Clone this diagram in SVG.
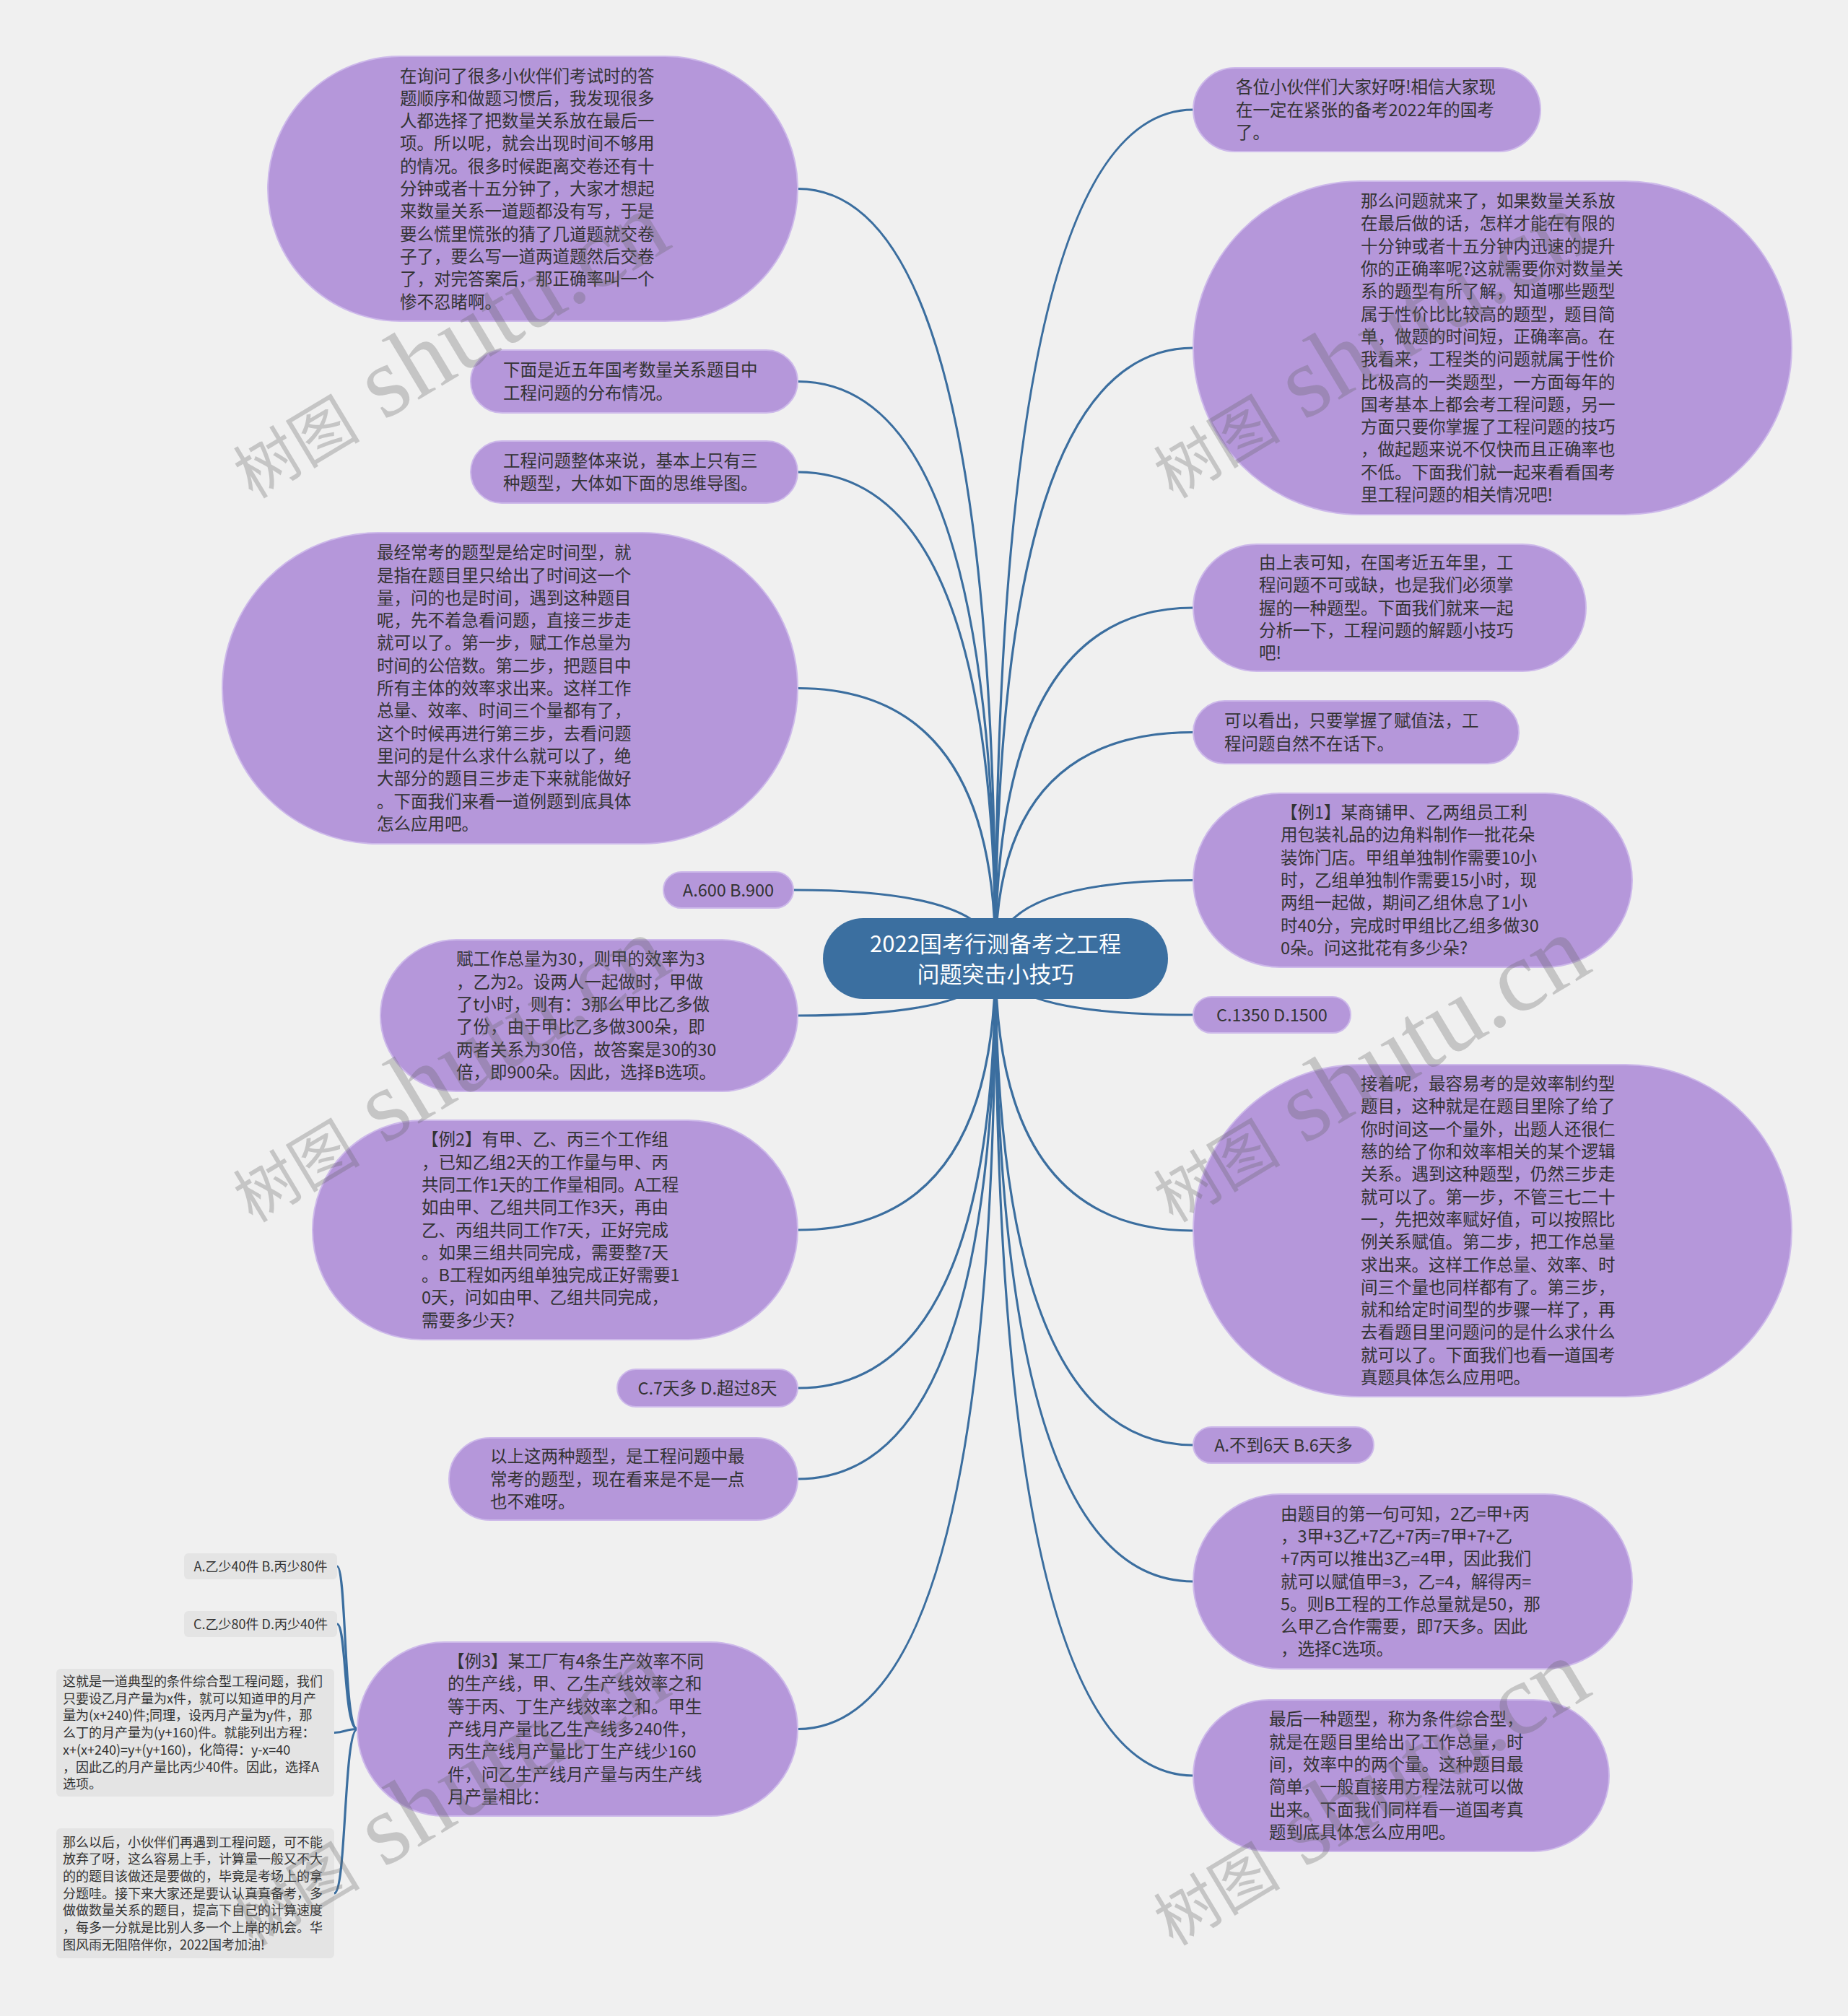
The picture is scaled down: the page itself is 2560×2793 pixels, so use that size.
<svg xmlns="http://www.w3.org/2000/svg" width="2560" height="2793" viewBox="0 0 2560 2793">
<style>
.bg{fill:#f0f0f0}
.n{fill:#b597da;stroke:#cdb9ea;stroke-width:2}
.s{fill:#e4e4e4}
.c{fill:none;stroke:#3b6e9f;stroke-width:3.2}
.t{font-family:"Noto Sans CJK SC","Noto Sans",sans-serif;font-size:23.5px;fill:#333333}
.tc{font-family:"Noto Sans CJK SC","Noto Sans",sans-serif;font-size:23.5px;fill:#333333;text-anchor:middle}
.ts{font-family:"Noto Sans CJK SC","Noto Sans",sans-serif;font-size:18px;fill:#333333}
.tsc{font-family:"Noto Sans CJK SC","Noto Sans",sans-serif;font-size:18px;fill:#333333;text-anchor:middle}
.root{fill:#3b6fa0}
.tr{font-family:"Noto Sans CJK SC","Noto Sans",sans-serif;font-size:31px;fill:#ffffff;text-anchor:middle}
.wm{font-family:"Liberation Serif","Noto Sans CJK SC",serif;font-size:88px;fill:#646464;fill-opacity:0.3}
.wl{font-size:140px}
</style>
<rect class="bg" x="0" y="0" width="2560" height="2793"/>

<g id="connectors">
<path class="c" d="M1379 1328 Q1379 261.5 1105 261.5"/>
<path class="c" d="M1379 1328 Q1379 528.5 1105 528.5"/>
<path class="c" d="M1379 1328 Q1379 654 1105 654"/>
<path class="c" d="M1379 1328 Q1379 953.5 1105 953.5"/>
<path class="c" d="M1379 1328 Q1379 1233 1099 1233"/>
<path class="c" d="M1379 1328 Q1379 1407 1105 1407"/>
<path class="c" d="M1379 1328 Q1379 1704 1105 1704"/>
<path class="c" d="M1379 1328 Q1379 1923 1105 1923"/>
<path class="c" d="M1379 1328 Q1379 2049 1105 2049"/>
<path class="c" d="M1379 1328 Q1379 2395.5 1105 2395.5"/>
<path class="c" d="M1379 1328 Q1379 152 1653 152"/>
<path class="c" d="M1379 1328 Q1379 482 1653 482"/>
<path class="c" d="M1379 1328 Q1379 842 1653 842"/>
<path class="c" d="M1379 1328 Q1379 1014.5 1653 1014.5"/>
<path class="c" d="M1379 1328 Q1379 1219.5 1653 1219.5"/>
<path class="c" d="M1379 1328 Q1379 1406 1653 1406"/>
<path class="c" d="M1379 1328 Q1379 1705 1653 1705"/>
<path class="c" d="M1379 1328 Q1379 2002 1653 2002"/>
<path class="c" d="M1379 1328 Q1379 2191 1653 2191"/>
<path class="c" d="M1379 1328 Q1379 2460 1653 2460"/>
<path class="c" d="M495 2395.5 C476 2395.5 480 2170 467 2170"/>
<path class="c" d="M495 2395.5 C476 2395.5 480 2250 467 2250"/>
<path class="c" d="M495 2395.5 C476 2395.5 480 2400.5 463 2400.5"/>
<path class="c" d="M495 2395.5 C476 2395.5 480 2623 463 2623"/>
</g>

<g id="root">
<rect class="root" x="1140" y="1272" width="478" height="112" rx="56"/>
<text class="tr" x="1379" y="1319">2022国考行测备考之工程<tspan x="1379" dy="42">问题突击小技巧</tspan></text>
</g>

<g id="L1">
<rect class="n" x="371" y="78" width="734" height="367" rx="183.5"/>
<text class="t" x="554" y="113.5"><tspan x="554">在询问了很多小伙伴们考试时的答</tspan><tspan x="554" dy="31.3">题顺序和做题习惯后，我发现很多</tspan><tspan x="554" dy="31.3">人都选择了把数量关系放在最后一</tspan><tspan x="554" dy="31.3">项。所以呢，就会出现时间不够用</tspan><tspan x="554" dy="31.3">的情况。很多时候距离交卷还有十</tspan><tspan x="554" dy="31.3">分钟或者十五分钟了，大家才想起</tspan><tspan x="554" dy="31.3">来数量关系一道题都没有写，于是</tspan><tspan x="554" dy="31.3">要么慌里慌张的猜了几道题就交卷</tspan><tspan x="554" dy="31.3">子了，要么写一道两道题然后交卷</tspan><tspan x="554" dy="31.3">了，对完答案后，那正确率叫一个</tspan><tspan x="554" dy="31.3">惨不忍睹啊。</tspan></text>
</g>

<g id="L2">
<rect class="n" x="652" y="485" width="453" height="87" rx="43.5"/>
<text class="t" x="697" y="521.4"><tspan x="697">下面是近五年国考数量关系题目中</tspan><tspan x="697" dy="31.3">工程问题的分布情况。</tspan></text>
</g>

<g id="L3">
<rect class="n" x="652" y="611" width="453" height="86" rx="43"/>
<text class="t" x="697" y="646.9"><tspan x="697">工程问题整体来说，基本上只有三</tspan><tspan x="697" dy="31.3">种题型，大体如下面的思维导图。</tspan></text>
</g>

<g id="L4">
<rect class="n" x="308" y="738" width="797" height="431" rx="215.5"/>
<text class="t" x="522" y="774.2"><tspan x="522">最经常考的题型是给定时间型，就</tspan><tspan x="522" dy="31.3">是指在题目里只给出了时间这一个</tspan><tspan x="522" dy="31.3">量，问的也是时间，遇到这种题目</tspan><tspan x="522" dy="31.3">呢，先不着急看问题，直接三步走</tspan><tspan x="522" dy="31.3">就可以了。第一步，赋工作总量为</tspan><tspan x="522" dy="31.3">时间的公倍数。第二步，把题目中</tspan><tspan x="522" dy="31.3">所有主体的效率求出来。这样工作</tspan><tspan x="522" dy="31.3">总量、效率、时间三个量都有了，</tspan><tspan x="522" dy="31.3">这个时候再进行第三步，去看问题</tspan><tspan x="522" dy="31.3">里问的是什么求什么就可以了，绝</tspan><tspan x="522" dy="31.3">大部分的题目三步走下来就能做好</tspan><tspan x="522" dy="31.3">。下面我们来看一道例题到底具体</tspan><tspan x="522" dy="31.3">怎么应用吧。</tspan></text>
</g>

<g id="L5">
<rect class="n" x="919" y="1208" width="180" height="50" rx="25"/>
<text class="tc" x="1009" y="1241.5">A.600 B.900</text>
</g>

<g id="L6">
<rect class="n" x="527" y="1302" width="578" height="210" rx="105"/>
<text class="t" x="632" y="1337.3"><tspan x="632">赋工作总量为30，则甲的效率为3</tspan><tspan x="632" dy="31.3">，乙为2。设两人一起做时，甲做</tspan><tspan x="632" dy="31.3">了t小时，则有：3那么甲比乙多做</tspan><tspan x="632" dy="31.3">了份，由于甲比乙多做300朵，即</tspan><tspan x="632" dy="31.3">两者关系为30倍，故答案是30的30</tspan><tspan x="632" dy="31.3">倍，即900朵。因此，选择B选项。</tspan></text>
</g>

<g id="L7">
<rect class="n" x="433" y="1552" width="672" height="304" rx="152"/>
<text class="t" x="584" y="1587.3"><tspan x="584">【例2】有甲、乙、丙三个工作组</tspan><tspan x="584" dy="31.3">，已知乙组2天的工作量与甲、丙</tspan><tspan x="584" dy="31.3">共同工作1天的工作量相同。A工程</tspan><tspan x="584" dy="31.3">如由甲、乙组共同工作3天，再由</tspan><tspan x="584" dy="31.3">乙、丙组共同工作7天，正好完成</tspan><tspan x="584" dy="31.3">。如果三组共同完成，需要整7天</tspan><tspan x="584" dy="31.3">。B工程如丙组单独完成正好需要1</tspan><tspan x="584" dy="31.3">0天，问如由甲、乙组共同完成，</tspan><tspan x="584" dy="31.3">需要多少天?</tspan></text>
</g>

<g id="L8">
<rect class="n" x="855" y="1897" width="250" height="52" rx="26"/>
<text class="tc" x="980" y="1931.5">C.7天多 D.超过8天</text>
</g>

<g id="L9">
<rect class="n" x="622" y="1992" width="483" height="114" rx="57"/>
<text class="t" x="679" y="2026.2"><tspan x="679">以上这两种题型，是工程问题中最</tspan><tspan x="679" dy="31.3">常考的题型，现在看来是不是一点</tspan><tspan x="679" dy="31.3">也不难呀。</tspan></text>
</g>

<g id="L10">
<rect class="n" x="495" y="2275" width="610" height="241" rx="120.5"/>
<text class="t" x="620" y="2310.1"><tspan x="620">【例3】某工厂有4条生产效率不同</tspan><tspan x="620" dy="31.3">的生产线，甲、乙生产线效率之和</tspan><tspan x="620" dy="31.3">等于丙、丁生产线效率之和。甲生</tspan><tspan x="620" dy="31.3">产线月产量比乙生产线多240件，</tspan><tspan x="620" dy="31.3">丙生产线月产量比丁生产线少160</tspan><tspan x="620" dy="31.3">件，问乙生产线月产量与丙生产线</tspan><tspan x="620" dy="31.3">月产量相比：</tspan></text>
</g>

<g id="S1">
<rect class="s" x="255" y="2152" width="212" height="36" rx="6"/>
<text class="tsc" x="361" y="2176.5">A.乙少40件 B.丙少80件</text>
</g>

<g id="S2">
<rect class="s" x="255" y="2232" width="212" height="36" rx="6"/>
<text class="tsc" x="361" y="2256.5">C.乙少80件 D.丙少40件</text>
</g>

<g id="S3">
<rect class="s" x="78" y="2312" width="385" height="177" rx="6"/>
<text class="ts" x="87" y="2336"><tspan x="87">这就是一道典型的条件综合型工程问题，我们</tspan><tspan x="87" dy="23.7">只要设乙月产量为x件，就可以知道甲的月产</tspan><tspan x="87" dy="23.7">量为(x+240)件;同理，设丙月产量为y件，那</tspan><tspan x="87" dy="23.7">么丁的月产量为(y+160)件。就能列出方程：</tspan><tspan x="87" dy="23.7">x+(x+240)=y+(y+160)，化简得：y-x=40</tspan><tspan x="87" dy="23.7">，因此乙的月产量比丙少40件。因此，选择A</tspan><tspan x="87" dy="23.7">选项。</tspan></text>
</g>

<g id="S4">
<rect class="s" x="78" y="2533" width="385" height="180" rx="6"/>
<text class="ts" x="87" y="2558.5"><tspan x="87">那么以后，小伙伴们再遇到工程问题，可不能</tspan><tspan x="87" dy="23.7">放弃了呀，这么容易上手，计算量一般又不大</tspan><tspan x="87" dy="23.7">的的题目该做还是要做的，毕竟是考场上的拿</tspan><tspan x="87" dy="23.7">分题哇。接下来大家还是要认认真真备考，多</tspan><tspan x="87" dy="23.7">做做数量关系的题目，提高下自己的计算速度</tspan><tspan x="87" dy="23.7">，每多一分就是比别人多一个上岸的机会。华</tspan><tspan x="87" dy="23.7">图风雨无阻陪伴你，2022国考加油!</tspan></text>
</g>

<g id="R1">
<rect class="n" x="1653" y="94" width="481" height="116" rx="58"/>
<text class="t" x="1712" y="129.2"><tspan x="1712">各位小伙伴们大家好呀!相信大家现</tspan><tspan x="1712" dy="31.3">在一定在紧张的备考2022年的国考</tspan><tspan x="1712" dy="31.3">了。</tspan></text>
</g>

<g id="R2">
<rect class="n" x="1653" y="251" width="829" height="462" rx="231"/>
<text class="t" x="1885" y="287.1"><tspan x="1885">那么问题就来了，如果数量关系放</tspan><tspan x="1885" dy="31.3">在最后做的话，怎样才能在有限的</tspan><tspan x="1885" dy="31.3">十分钟或者十五分钟内迅速的提升</tspan><tspan x="1885" dy="31.3">你的正确率呢?这就需要你对数量关</tspan><tspan x="1885" dy="31.3">系的题型有所了解，知道哪些题型</tspan><tspan x="1885" dy="31.3">属于性价比比较高的题型，题目简</tspan><tspan x="1885" dy="31.3">单，做题的时间短，正确率高。在</tspan><tspan x="1885" dy="31.3">我看来，工程类的问题就属于性价</tspan><tspan x="1885" dy="31.3">比极高的一类题型，一方面每年的</tspan><tspan x="1885" dy="31.3">国考基本上都会考工程问题，另一</tspan><tspan x="1885" dy="31.3">方面只要你掌握了工程问题的技巧</tspan><tspan x="1885" dy="31.3">，做起题来说不仅快而且正确率也</tspan><tspan x="1885" dy="31.3">不低。下面我们就一起来看看国考</tspan><tspan x="1885" dy="31.3">里工程问题的相关情况吧!</tspan></text>
</g>

<g id="R3">
<rect class="n" x="1653" y="754" width="544" height="176" rx="88"/>
<text class="t" x="1744" y="787.9"><tspan x="1744">由上表可知，在国考近五年里，工</tspan><tspan x="1744" dy="31.3">程问题不可或缺，也是我们必须掌</tspan><tspan x="1744" dy="31.3">握的一种题型。下面我们就来一起</tspan><tspan x="1744" dy="31.3">分析一下，工程问题的解题小技巧</tspan><tspan x="1744" dy="31.3">吧!</tspan></text>
</g>

<g id="R4">
<rect class="n" x="1653" y="971" width="451" height="87" rx="43.5"/>
<text class="t" x="1696" y="1007.4"><tspan x="1696">可以看出，只要掌握了赋值法，工</tspan><tspan x="1696" dy="31.3">程问题自然不在话下。</tspan></text>
</g>

<g id="R5">
<rect class="n" x="1653" y="1099" width="608" height="241" rx="120.5"/>
<text class="t" x="1774" y="1134.1"><tspan x="1774">【例1】某商铺甲、乙两组员工利</tspan><tspan x="1774" dy="31.3">用包装礼品的边角料制作一批花朵</tspan><tspan x="1774" dy="31.3">装饰门店。甲组单独制作需要10小</tspan><tspan x="1774" dy="31.3">时，乙组单独制作需要15小时，现</tspan><tspan x="1774" dy="31.3">两组一起做，期间乙组休息了1小</tspan><tspan x="1774" dy="31.3">时40分，完成时甲组比乙组多做30</tspan><tspan x="1774" dy="31.3">0朵。问这批花有多少朵?</tspan></text>
</g>

<g id="R6">
<rect class="n" x="1653" y="1381" width="218" height="50" rx="25"/>
<text class="tc" x="1762" y="1414.5">C.1350 D.1500</text>
</g>

<g id="R7">
<rect class="n" x="1653" y="1475" width="829" height="460" rx="230"/>
<text class="t" x="1885" y="1510.1"><tspan x="1885">接着呢，最容易考的是效率制约型</tspan><tspan x="1885" dy="31.3">题目，这种就是在题目里除了给了</tspan><tspan x="1885" dy="31.3">你时间这一个量外，出题人还很仁</tspan><tspan x="1885" dy="31.3">慈的给了你和效率相关的某个逻辑</tspan><tspan x="1885" dy="31.3">关系。遇到这种题型，仍然三步走</tspan><tspan x="1885" dy="31.3">就可以了。第一步，不管三七二十</tspan><tspan x="1885" dy="31.3">一，先把效率赋好值，可以按照比</tspan><tspan x="1885" dy="31.3">例关系赋值。第二步，把工作总量</tspan><tspan x="1885" dy="31.3">求出来。这样工作总量、效率、时</tspan><tspan x="1885" dy="31.3">间三个量也同样都有了。第三步，</tspan><tspan x="1885" dy="31.3">就和给定时间型的步骤一样了，再</tspan><tspan x="1885" dy="31.3">去看题目里问题问的是什么求什么</tspan><tspan x="1885" dy="31.3">就可以了。下面我们也看一道国考</tspan><tspan x="1885" dy="31.3">真题具体怎么应用吧。</tspan></text>
</g>

<g id="R8">
<rect class="n" x="1653" y="1977" width="250" height="50" rx="25"/>
<text class="tc" x="1778" y="2010.5">A.不到6天 B.6天多</text>
</g>

<g id="R9">
<rect class="n" x="1653" y="2070" width="608" height="242" rx="121"/>
<text class="t" x="1774" y="2105.6"><tspan x="1774">由题目的第一句可知，2乙=甲+丙</tspan><tspan x="1774" dy="31.3">，3甲+3乙+7乙+7丙=7甲+7+乙</tspan><tspan x="1774" dy="31.3">+7丙可以推出3乙=4甲，因此我们</tspan><tspan x="1774" dy="31.3">就可以赋值甲=3，乙=4，解得丙=</tspan><tspan x="1774" dy="31.3">5。则B工程的工作总量就是50，那</tspan><tspan x="1774" dy="31.3">么甲乙合作需要，即7天多。因此</tspan><tspan x="1774" dy="31.3">，选择C选项。</tspan></text>
</g>

<g id="R10">
<rect class="n" x="1653" y="2355" width="576" height="210" rx="105"/>
<text class="t" x="1758" y="2390.3"><tspan x="1758">最后一种题型，称为条件综合型，</tspan><tspan x="1758" dy="31.3">就是在题目里给出了工作总量，时</tspan><tspan x="1758" dy="31.3">间，效率中的两个量。这种题目最</tspan><tspan x="1758" dy="31.3">简单，一般直接用方程法就可以做</tspan><tspan x="1758" dy="31.3">出来。下面我们同样看一道国考真</tspan><tspan x="1758" dy="31.3">题到底具体怎么应用吧。</tspan></text>
</g>

<g id="watermarks">
<text class="wm" x="350" y="692" transform="rotate(-31 350 692)">树图<tspan class="wl"> shutu.cn</tspan></text>
<text class="wm" x="1625" y="692" transform="rotate(-31 1625 692)">树图<tspan class="wl"> shutu.cn</tspan></text>
<text class="wm" x="350" y="1695" transform="rotate(-31 350 1695)">树图<tspan class="wl"> shutu.cn</tspan></text>
<text class="wm" x="1625" y="1695" transform="rotate(-31 1625 1695)">树图<tspan class="wl"> shutu.cn</tspan></text>
<text class="wm" x="350" y="2697" transform="rotate(-31 350 2697)">树图<tspan class="wl"> shutu.cn</tspan></text>
<text class="wm" x="1625" y="2697" transform="rotate(-31 1625 2697)">树图<tspan class="wl"> shutu.cn</tspan></text>
</g>
</svg>
